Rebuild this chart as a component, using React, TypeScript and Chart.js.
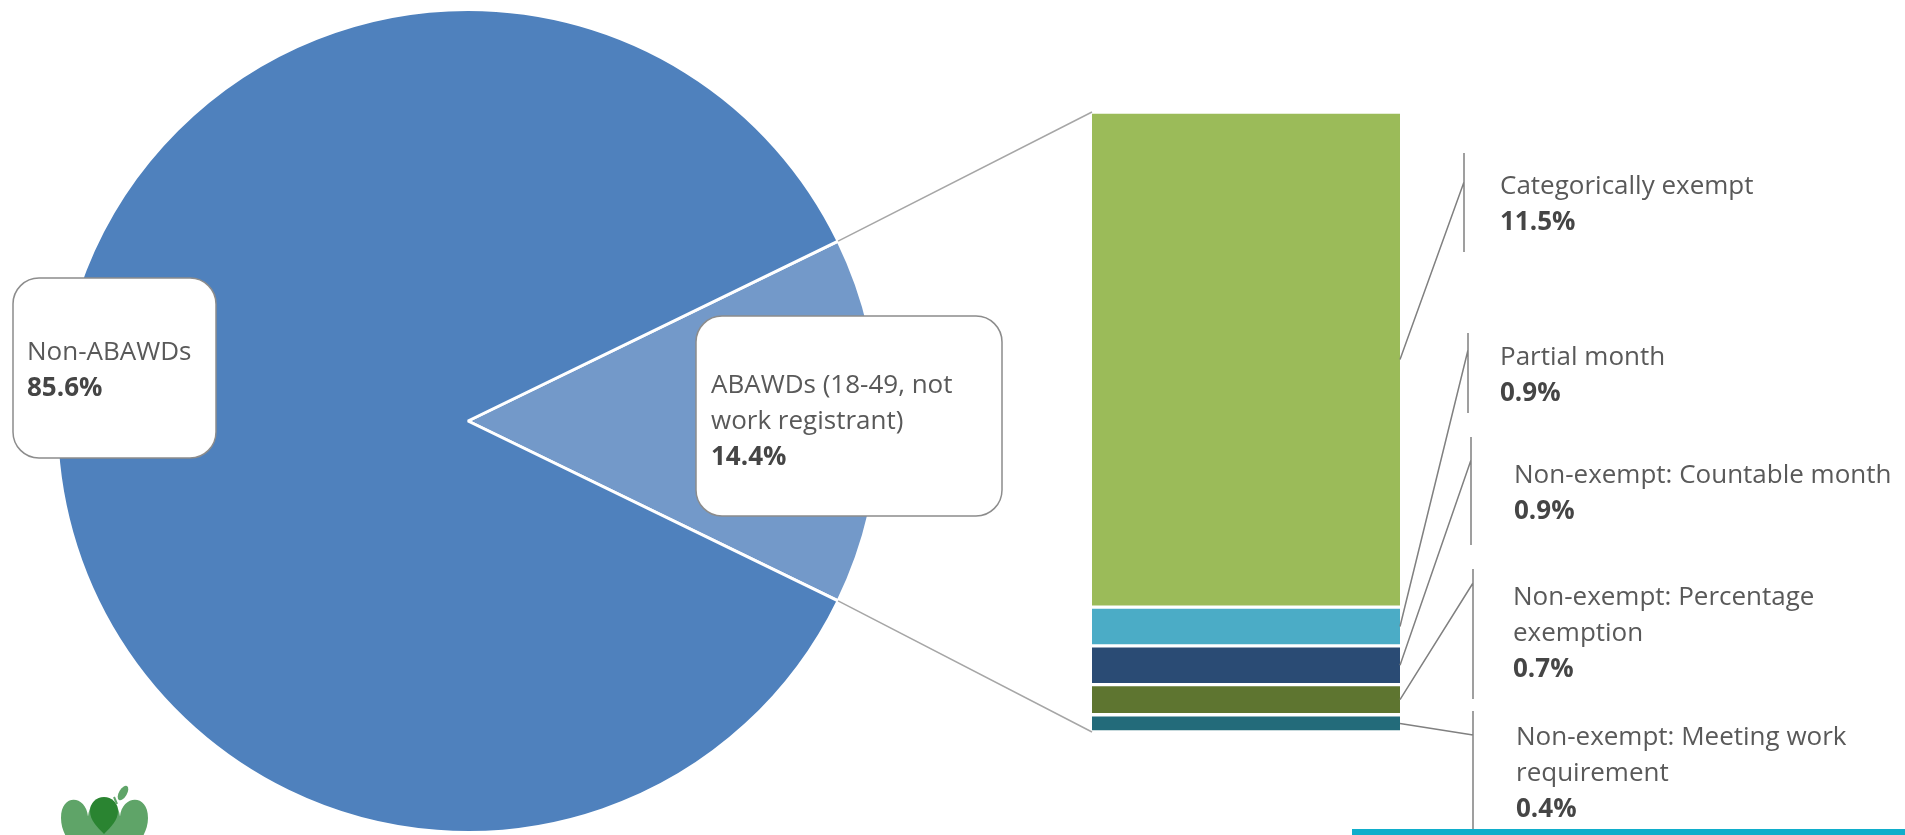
import React, { useEffect, useRef } from "react";
import { Chart, registerables } from "chart.js";

Chart.register(...registerables);

// ---------- data ----------
const PIE_LABELS = ["ABAWDs (18-49, not work registrant)", "Non-ABAWDs"];
const PIE_VALUES = [14.4, 85.6];

const SUB_LABELS = [
  "Categorically exempt",
  "Partial month",
  "Non-exempt: Countable month",
  "Non-exempt: Percentage exemption",
  "Non-exempt: Meeting work requirement",
];
const SUB_VALUES = [11.5, 0.9, 0.9, 0.7, 0.4];

// ---------- styles / layout ----------
const W = 1905;
const H = 835;
const PIE_COLORS = ["#7399C9", "#4F81BD"];
const SUB_COLORS = ["#9BBB59", "#4BACC6", "#2A4B74", "#5E7530", "#236B7A"];
const FONT_FAMILY = "'Open Sans', Lato, sans-serif";
const FONT_SIZE = 26;
const LINE_H = 36;
const TEXT_COLOR = "#595959";
const BOLD_COLOR = "#454545";
const LINE_COLOR = "#808080";
const SUB_WRAP = 392;

const PIE_BOXES = [
  { x: 696, y: 316, w: 306, h: 200, tx: 711, ty: 393 },
  { x: 13, y: 278, w: 203, h: 180, tx: 27, ty: 360 },
];

const SUB_LAYOUT = [
  { bx: 1464, by0: 153, by1: 252, jy: 182, tx: 1500, ty: 194 },
  { bx: 1468, by0: 333, by1: 413, jy: 350, tx: 1500, ty: 365 },
  { bx: 1471, by0: 437, by1: 545, jy: 460, tx: 1514, ty: 483 },
  { bx: 1473, by0: 569, by1: 699, jy: 583, tx: 1513, ty: 605 },
  { bx: 1473, by0: 711, by1: 840, jy: 735, tx: 1516, ty: 745 },
];

function wrap(ctx: CanvasRenderingContext2D, text: string, maxW: number): string[] {
  const words = text.split(" ");
  const lines: string[] = [];
  let cur = "";
  for (const w of words) {
    const test = cur ? cur + " " + w : w;
    if (cur && ctx.measureText(test).width > maxW) {
      lines.push(cur);
      cur = w;
    } else cur = test;
  }
  if (cur) lines.push(cur);
  return lines;
}

function drawLabel(ctx: CanvasRenderingContext2D, text: string, value: number, x: number, y: number, maxW: number) {
  ctx.font = `${FONT_SIZE}px ${FONT_FAMILY}`;
  ctx.fillStyle = TEXT_COLOR;
  ctx.textAlign = "left";
  ctx.textBaseline = "alphabetic";
  const lines = wrap(ctx, text, maxW);
  lines.forEach((l, i) => ctx.fillText(l, x, y + i * LINE_H));
  ctx.font = `bold ${FONT_SIZE}px ${FONT_FAMILY}`;
  ctx.fillStyle = BOLD_COLOR;
  ctx.fillText(`${value.toFixed(1)}%`, x, y + lines.length * LINE_H);
}

function drawLogo(ctx: CanvasRenderingContext2D) {
  ctx.save();
  ctx.fillStyle = "#5FA468";
  const lobe = (cx: number, top: number, w: number, h: number) => {
    ctx.beginPath();
    ctx.moveTo(cx, top + h * 0.28);
    ctx.bezierCurveTo(cx - 2, top - 2, cx - w / 2, top - 4, cx - w / 2, top + h * 0.3);
    ctx.bezierCurveTo(cx - w / 2, top + h * 0.6, cx - 8, top + h * 0.8, cx, top + h);
    ctx.bezierCurveTo(cx + 8, top + h * 0.8, cx + w / 2, top + h * 0.6, cx + w / 2, top + h * 0.3);
    ctx.bezierCurveTo(cx + w / 2, top - 4, cx + 2, top - 2, cx, top + h * 0.28);
    ctx.fill();
  };
  lobe(88, 797, 54, 70);
  lobe(120, 797, 56, 70);
  ctx.fillStyle = "#2A8431";
  ctx.beginPath();
  ctx.moveTo(104, 834);
  ctx.bezierCurveTo(97, 827, 90, 820, 90, 811);
  ctx.arc(104, 811, 14, Math.PI, 0);
  ctx.bezierCurveTo(118, 820, 111, 827, 104, 834);
  ctx.fill();
  ctx.fillStyle = "#5FA468";
  ctx.beginPath();
  ctx.ellipse(123, 793, 8, 4, -Math.PI / 3, 0, Math.PI * 2);
  ctx.fill();
  ctx.strokeStyle = "#5FA468";
  ctx.lineWidth = 2;
  ctx.beginPath();
  ctx.moveTo(117, 804);
  ctx.lineTo(114, 797);
  ctx.stroke();
  ctx.restore();
}

export default function App() {
  const pieRef = useRef<HTMLCanvasElement | null>(null);
  const barRef = useRef<HTMLCanvasElement | null>(null);

  useEffect(() => {
    document.body.style.margin = "0";
    if (!pieRef.current || !barRef.current) return;

    const total = PIE_VALUES.reduce((a, b) => a + b, 0);
    const rotation = 90 - ((PIE_VALUES[0] / total) * 360) / 2;

    const piePlugin = {
      id: "pieLabels",
      afterDraw(chart: any) {
        const ctx: CanvasRenderingContext2D = chart.ctx;
        ctx.save();
        PIE_BOXES.forEach((b, i) => {
          ctx.beginPath();
          ctx.roundRect(b.x, b.y, b.w, b.h, 26);
          ctx.fillStyle = "#ffffff";
          ctx.fill();
          ctx.strokeStyle = "#8C8C8C";
          ctx.lineWidth = 1.5;
          ctx.stroke();
          drawLabel(ctx, PIE_LABELS[i], PIE_VALUES[i], b.tx, b.ty, b.w - 2 * (b.tx - b.x));
        });
        drawLogo(ctx);
        ctx.restore();
      },
    };

    const pie = new Chart(pieRef.current, {
      type: "pie",
      data: {
        labels: PIE_LABELS,
        datasets: [
          {
            data: PIE_VALUES,
            backgroundColor: PIE_COLORS,
            borderColor: "#ffffff",
            borderWidth: 3,
          },
        ],
      },
      options: {
        responsive: false,
        animation: false,
        rotation,
        layout: { padding: { left: 55, right: 1024, top: 8, bottom: 1 } },
        plugins: { legend: { display: false }, tooltip: { enabled: false } },
      },
      plugins: [piePlugin],
    });

    const barPlugin = {
      id: "barLabels",
      afterDraw(chart: any) {
        const ctx: CanvasRenderingContext2D = chart.ctx;
        ctx.save();
        const els = SUB_VALUES.map((_, i) => chart.getDatasetMeta(i).data[0]);
        const tops = els.map((e: any) => Math.min(e.y, e.base));
        const bots = els.map((e: any) => Math.max(e.y, e.base));
        const left = els[0].x - els[0].width / 2;
        const right = els[0].x + els[0].width / 2;
        const barTop = Math.min(...tops);
        const barBot = Math.max(...bots);

        const arc: any = pie.getDatasetMeta(0).data[0];
        const r = arc.outerRadius;
        const p1 = { x: arc.x + r * Math.cos(arc.startAngle), y: arc.y + r * Math.sin(arc.startAngle) };
        const p2 = { x: arc.x + r * Math.cos(arc.endAngle), y: arc.y + r * Math.sin(arc.endAngle) };
        ctx.strokeStyle = "#A6A6A6";
        ctx.lineWidth = 1.5;
        ctx.beginPath();
        ctx.moveTo(p1.x, p1.y);
        ctx.lineTo(left, barTop);
        ctx.moveTo(p2.x, p2.y);
        ctx.lineTo(left, barBot);
        ctx.stroke();

        ctx.strokeStyle = LINE_COLOR;
        ctx.lineWidth = 1.5;
        SUB_LAYOUT.forEach((L, i) => {
          const cy = (tops[i] + bots[i]) / 2;
          ctx.beginPath();
          ctx.moveTo(right, cy);
          ctx.lineTo(L.bx, L.jy);
          ctx.moveTo(L.bx, L.by0);
          ctx.lineTo(L.bx, L.by1);
          ctx.stroke();
          drawLabel(ctx, SUB_LABELS[i], SUB_VALUES[i], L.tx, L.ty, SUB_WRAP);
        });

        ctx.fillStyle = "#10AECB";
        ctx.fillRect(1352, 829, W - 1352, 6);
        ctx.restore();
      },
    };

    const bar = new Chart(barRef.current, {
      type: "bar",
      data: {
        labels: ["ABAWDs"],
        datasets: SUB_LABELS.map((l, i) => ({
          label: l,
          data: [SUB_VALUES[i]],
          backgroundColor: SUB_COLORS[i],
          borderColor: "#ffffff",
          borderWidth: { top: 2, bottom: 2, left: 0, right: 0 },
          borderSkipped: false,
          barPercentage: 1,
          categoryPercentage: 1,
        })),
      },
      options: {
        responsive: false,
        animation: false,
        layout: { padding: { left: 1092, right: W - 1400, top: 112, bottom: H - 732 } },
        scales: {
          x: { display: false, stacked: true },
          y: {
            display: false,
            stacked: true,
            reverse: true,
            min: 0,
            max: SUB_VALUES.reduce((a, b) => a + b, 0),
          },
        },
        plugins: { legend: { display: false }, tooltip: { enabled: false } },
      },
      plugins: [barPlugin],
    });

    return () => {
      bar.destroy();
      pie.destroy();
    };
  }, []);

  return (
    <div style={{ position: "relative", width: W, height: H, background: "#ffffff", overflow: "hidden" }}>
      <canvas ref={pieRef} width={W} height={H} style={{ position: "absolute", left: 0, top: 0 }} />
      <canvas ref={barRef} width={W} height={H} style={{ position: "absolute", left: 0, top: 0 }} />
    </div>
  );
}
